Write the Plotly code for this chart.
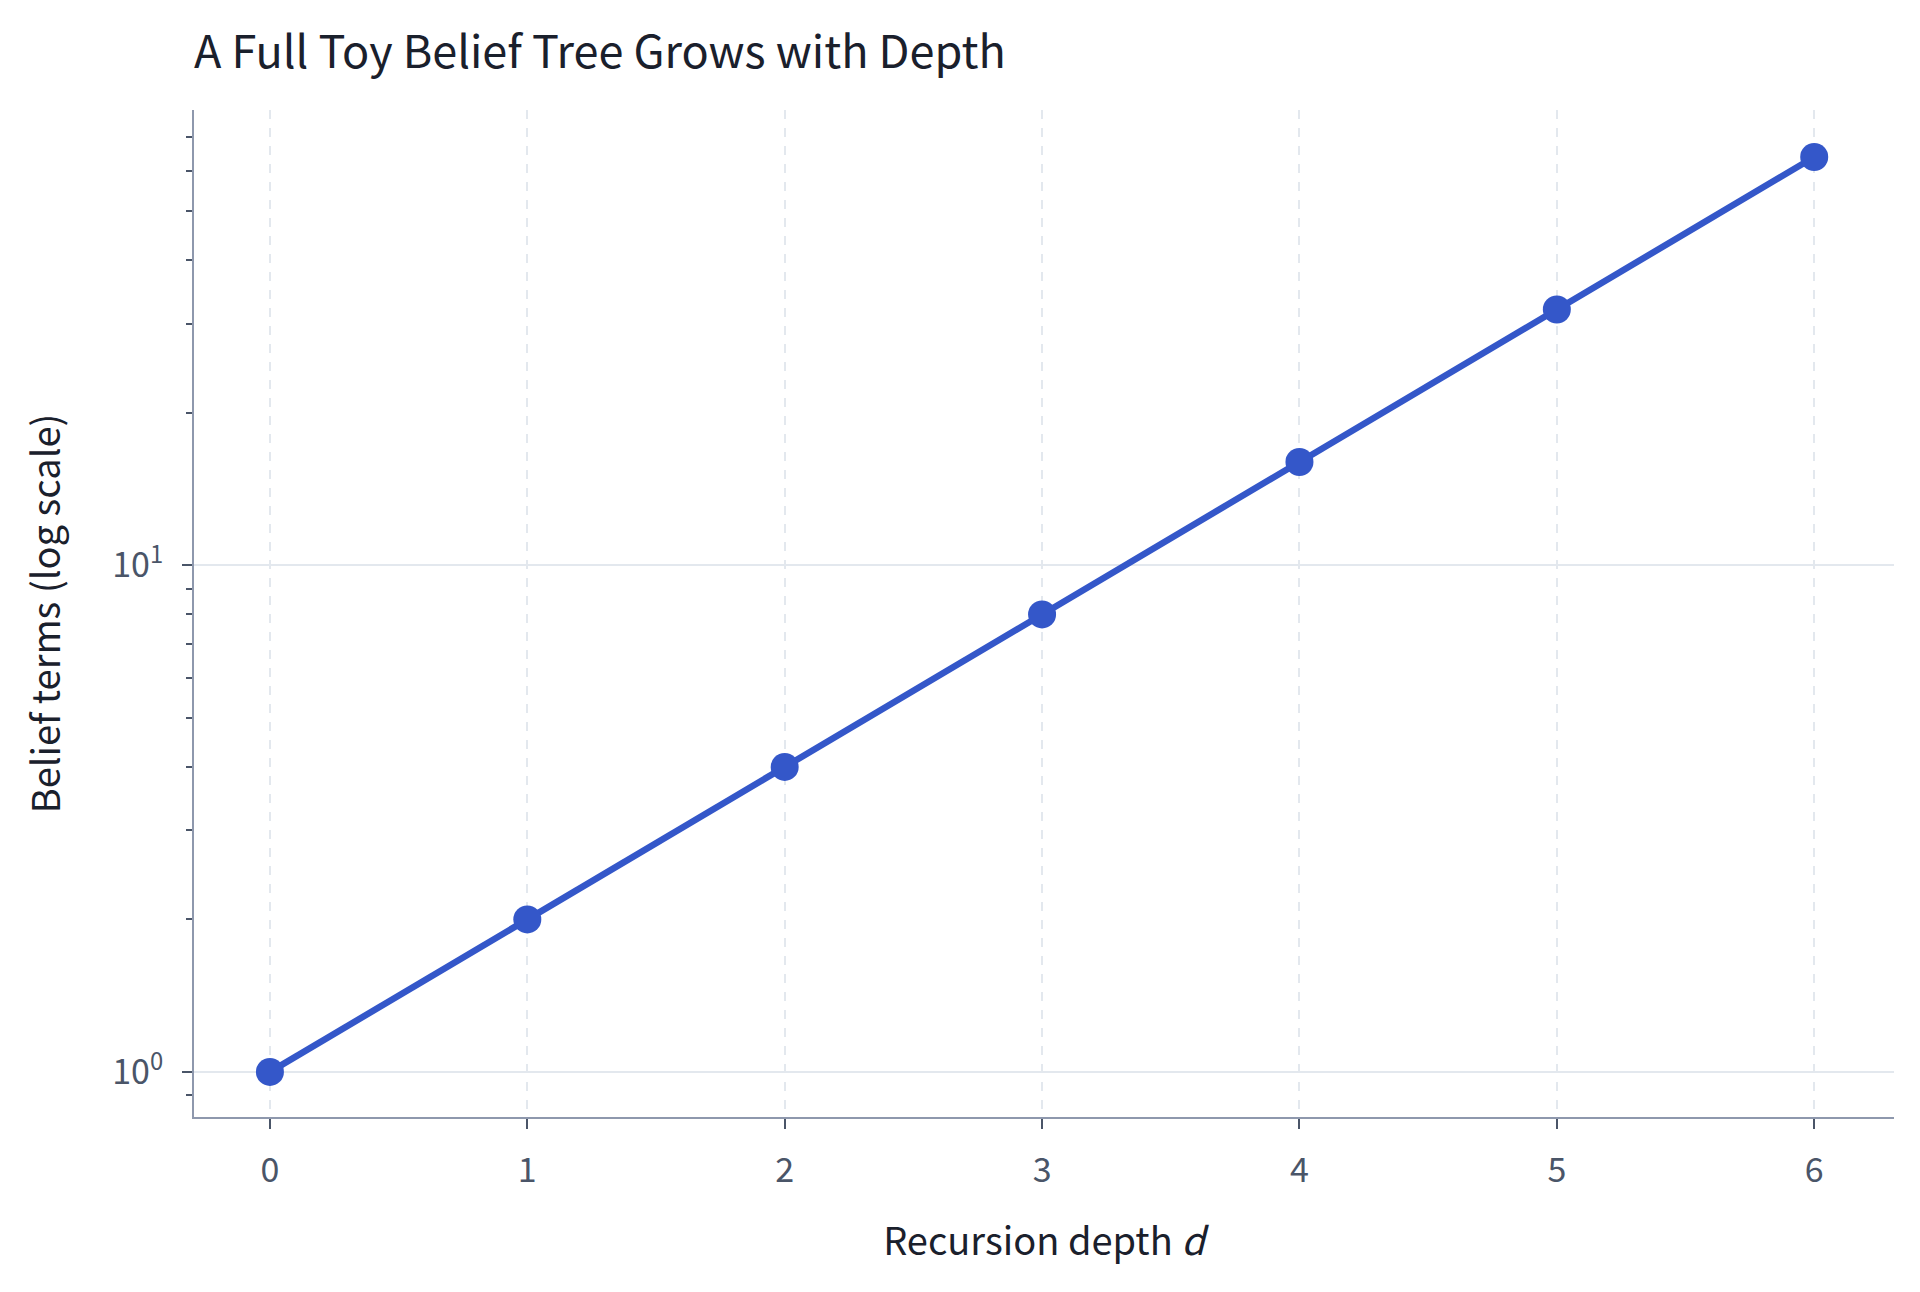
import plotly.graph_objects as go

depth = [0, 1, 2, 3, 4, 5, 6]
belief_terms = [1, 2, 4, 8, 16, 32, 64]

y_tickvals = [1, 10]
y_ticktext = ["10<sup>0</sup>", "10<sup>1</sup>"]
y_minor_ticks = [0.9, 2, 3, 4, 5, 6, 7, 8, 9, 20, 30, 40, 50, 60, 70]

FONT = "Noto Sans CJK KR"
AXIS_COLOR = "#8e98ad"
TICK_COLOR = "#4a5568"
TEXT_COLOR = "#1a202c"

fig = go.Figure(go.Scatter(
    x=depth,
    y=belief_terms,
    mode="lines+markers",
    line=dict(color="#3457c9", width=6.5),
    marker=dict(color="#3457c9", size=28),
    showlegend=False,
))

fig.update_layout(
    width=1920,
    height=1292,
    paper_bgcolor="white",
    plot_bgcolor="white",
    margin=dict(l=186, r=34, t=102, b=183),
    font=dict(family=FONT, color=TEXT_COLOR),
    title=dict(
        text="A Full Toy Belief Tree Grows with Depth",
        x=186 / 1920, xanchor="left",
        y=1 - 44 / 1292, yanchor="middle",
        font=dict(size=45, color=TEXT_COLOR),
    ),
)

fig.update_xaxes(
    range=[-0.295, 6.31],
    tickvals=depth,
    showline=True, linecolor=AXIS_COLOR, linewidth=2,
    ticks="outside", ticklen=10, tickwidth=2, tickcolor=TICK_COLOR,
    tickfont=dict(size=34, color=TICK_COLOR), ticklabelstandoff=12,
    showgrid=True, gridcolor="#e3e8ee", gridwidth=1.5, griddash="dash",
    zeroline=False,
    title=dict(text="Recursion depth <i>d</i>", font=dict(size=38, color=TEXT_COLOR), standoff=38),
)

fig.update_yaxes(
    type="log",
    range=[-0.089, 1.899],
    tickvals=y_tickvals, ticktext=y_ticktext,
    showline=True, linecolor=AXIS_COLOR, linewidth=2,
    ticks="outside", ticklen=10, tickwidth=2, tickcolor=TICK_COLOR,
    tickfont=dict(size=34, color=TICK_COLOR), ticklabelstandoff=12,
    showgrid=True, gridcolor="#e3e8ee", gridwidth=2,
    zeroline=False,
    minor=dict(tickvals=y_minor_ticks, ticks="outside", ticklen=6, tickwidth=2,
               tickcolor=TICK_COLOR, showgrid=False),
    title=dict(text="Belief terms (log scale)", font=dict(size=38, color=TEXT_COLOR), standoff=40),
)

fig.write_html("out.html")
